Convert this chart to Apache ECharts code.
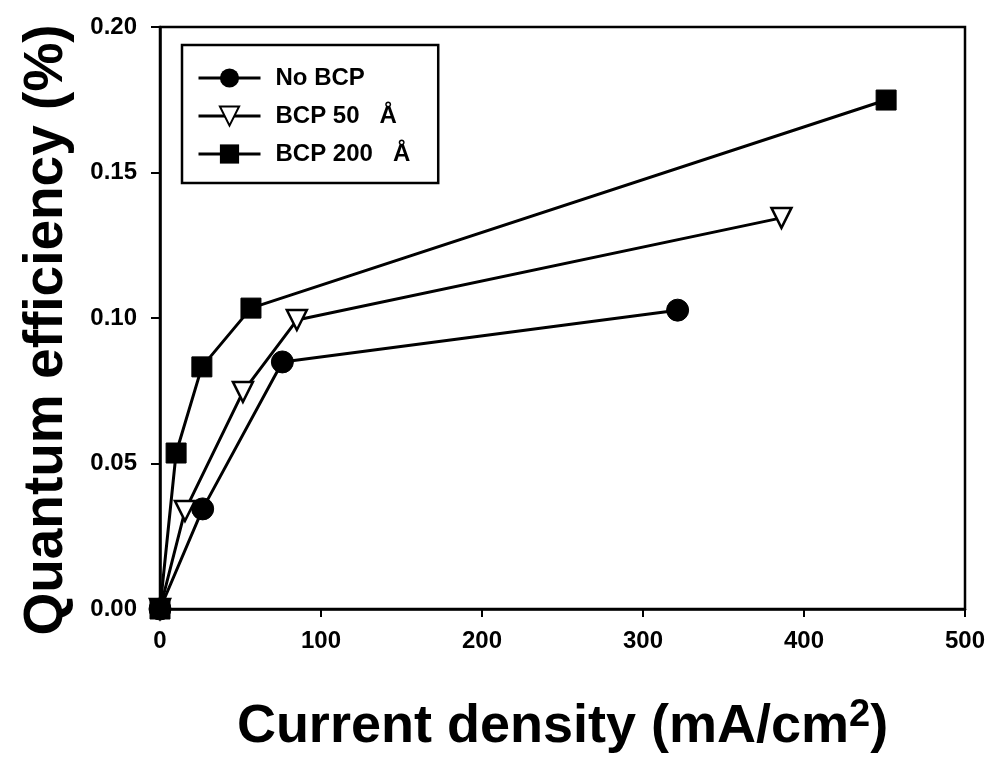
<!DOCTYPE html>
<html>
<head>
<meta charset="utf-8">
<script src="https://cdn.jsdelivr.net/npm/echarts@6/dist/echarts.min.js"></script>
<style>
html,body{margin:0;padding:0;background:#fff;}
#chart{width:991px;height:759px;}
</style>
</head>
<body>
<div id="chart"></div>
<script>
var seriesNames = ['No BCP', 'BCP 50   Å', 'BCP 200   Å'];
var xNoBCP = [0, 26.5, 76, 321.5];
var yNoBCP = [0, 0.0344, 0.0849, 0.1027];
var xBCP50 = [0, 15.5, 51.5, 85, 386];
var yBCP50 = [0, 0.0337, 0.0746, 0.0993, 0.1344];
var xBCP200 = [0, 10, 26, 56.5, 451];
var yBCP200 = [0, 0.0536, 0.0832, 0.1034, 0.1749];
var xTicks = [0, 100, 200, 300, 400, 500];
var yTicks = [0.00, 0.05, 0.10, 0.15, 0.20];

function pairs(xs, ys){ return xs.map(function(x,i){ return [x, ys[i]]; }); }

var FONT = '"Liberation Sans", Arial, sans-serif';
var chart = echarts.init(document.getElementById('chart'));
chart.setOption({
  animation: false,
  backgroundColor: '#fff',
  grid: {left: 160, right: 26, top: 27, bottom: 150, show: true, borderColor: '#000', borderWidth: 2.5},
  legend: {
    orient: 'vertical', left: 182, top: 45,
    data: seriesNames,
    itemWidth: 62, itemHeight: 24, itemGap: 14,
    padding: [21, 28, 17, 15],
    borderColor: '#000', borderWidth: 2.5,
    lineStyle: {color: '#000', width: 3},
    textStyle: {fontFamily: FONT, fontWeight: 'bold', fontSize: 24, color: '#000', padding: [0,0,0,10]}
  },
  xAxis: {
    type: 'value', min: xTicks[0], max: xTicks[xTicks.length-1], interval: 100,
    name: 'Current density (mA/cm{sup|2})', nameLocation: 'middle', nameGap: 88,
    nameTextStyle: {fontFamily: FONT, fontWeight: 'bold', fontSize: 54, color: '#000',
      rich: {sup: {fontFamily: FONT, fontWeight: 'bold', fontSize: 38, color: '#000', verticalAlign: 'top', padding: [0,0,22,0]}}},
    axisLine: {show: true, lineStyle: {color: '#000', width: 2.5}},
    axisTick: {show: true, inside: false, length: 8, lineStyle: {color: '#000', width: 2}},
    axisLabel: {fontFamily: FONT, fontWeight: 'bold', fontSize: 24, color: '#000', margin: 20},
    splitLine: {show: false}
  },
  yAxis: {
    type: 'value', min: yTicks[0], max: yTicks[yTicks.length-1], interval: 0.05,
    name: 'Quantum efficiency (%)', nameLocation: 'middle', nameGap: 86,
    nameTextStyle: {fontFamily: FONT, fontWeight: 'bold', fontSize: 55, color: '#000', padding: [0, 24, 0, 0]},
    axisLine: {show: true, lineStyle: {color: '#000', width: 2.5}},
    axisTick: {show: true, inside: false, length: 9, lineStyle: {color: '#000', width: 2}},
    axisLabel: {fontFamily: FONT, fontWeight: 'bold', fontSize: 24, color: '#000', margin: 23,
      formatter: function(v){ return v.toFixed(2); }},
    splitLine: {show: false}
  },
  series: [
    {name: seriesNames[0], type: 'line', data: pairs(xNoBCP, yNoBCP), symbol: 'circle', symbolSize: 22,
     lineStyle: {color: '#000', width: 3}, itemStyle: {color: '#000', borderColor: '#000'}},
    {name: seriesNames[1], type: 'line', data: pairs(xBCP50, yBCP50), symbol: 'triangle', symbolRotate: 180, symbolSize: 20,
     lineStyle: {color: '#000', width: 3}, itemStyle: {color: '#fff', borderColor: '#000', borderWidth: 2.5}},
    {name: seriesNames[2], type: 'line', data: pairs(xBCP200, yBCP200), symbol: 'rect', symbolSize: 20,
     lineStyle: {color: '#000', width: 3}, itemStyle: {color: '#000', borderColor: '#000'}}
  ]
});
</script>
</body>
</html>
